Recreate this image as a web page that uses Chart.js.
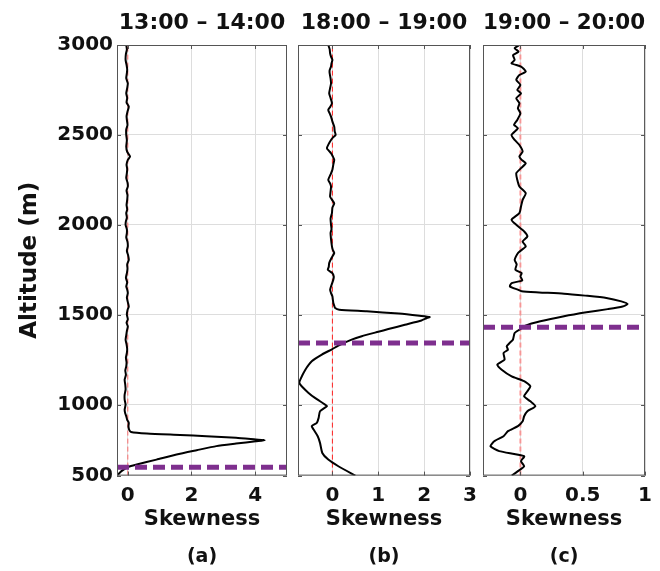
<!DOCTYPE html>
<html>
<head>
<meta charset="utf-8">
<script src="https://cdn.jsdelivr.net/npm/chart.js@4.4.1/dist/chart.umd.min.js"></script>
<style>
  body { margin: 0; background: #fff; }
  .wrap { position: relative; width: 660px; height: 571px; }
  .wrap canvas { position: absolute; left: 0; top: 0; }
</style>
</head>
<body>
<div class="wrap">
  <canvas id="panelA" width="660" height="571"></canvas>
  <canvas id="panelB" width="660" height="571"></canvas>
  <canvas id="panelC" width="660" height="571"></canvas>
</div>
<script>
// skewness profiles, altitude in m
const altA = [3000, 2975, 2950, 2917, 2890, 2865, 2843, 2815, 2787, 2760, 2731, 2705, 2680, 2657, 2630, 2605, 2583, 2555, 2530, 2500,
  2470, 2435, 2405, 2380, 2361, 2335, 2310, 2287, 2260, 2235, 2213, 2190, 2165, 2139, 2110, 2085, 2065, 2040, 2020, 2000,
  1975, 1954, 1930, 1905, 1880, 1855, 1830, 1805, 1780, 1755, 1731, 1705, 1680, 1657, 1640, 1620, 1595, 1570, 1546, 1525,
  1500, 1475, 1455, 1435, 1410, 1385, 1361, 1335, 1310, 1287, 1260, 1235, 1213, 1190, 1165, 1139, 1110, 1083, 1055, 1028,
  1000, 972, 950, 935, 915, 898, 880, 861, 848, 839, 831, 824, 815, 806, 802, 796, 783, 769, 746, 722,
  694, 667, 654, 630, 605]
const skewA = [-0.05, -0.03, -0.06, -0.07, -0.04, -0.02, -0.03, -0.05, 0.0, -0.02, -0.05, -0.02, -0.04, 0.03, -0.01, -0.04, -0.03, -0.01, -0.05, -0.05,
  -0.03, -0.05, -0.02, 0.07, 0.0, -0.04, -0.02, -0.03, -0.05, -0.01, 0.0, -0.04, -0.01, -0.02, -0.04, -0.02, -0.05, -0.03, -0.06, -0.07,
  -0.03, -0.03, -0.05, -0.01, 0.0, -0.03, 0.01, 0.03, -0.02, -0.01, -0.03, -0.06, -0.02, -0.05, -0.02, 0.0, -0.03, 0.0, 0.03, -0.01,
  -0.03, 0.0, -0.04, 0.0, -0.03, -0.05, -0.07, -0.04, -0.02, -0.03, -0.06, -0.04, -0.05, -0.08, -0.06, -0.1, -0.08, -0.07, -0.1, -0.1,
  -0.07, -0.1, -0.08, -0.05, -0.02, 0.03, 0.02, 0.04, 0.1, 0.6, 1.64, 2.47, 3.4, 4.02, 4.3, 4.02, 3.4, 2.78, 2.16, 1.53,
  0.9, 0.28, 0.02, -0.2, -0.34]

const altB = [3000, 2977, 2954, 2935, 2917, 2898, 2880, 2860, 2843, 2815, 2787, 2760, 2731, 2705, 2676, 2655, 2639, 2620, 2602, 2575,
  2546, 2520, 2500, 2485, 2472, 2450, 2426, 2410, 2398, 2380, 2361, 2335, 2306, 2280, 2250, 2230, 2213, 2185, 2157, 2140,
  2120, 2095, 2065, 2035, 2000, 1975, 1954, 1920, 1880, 1860, 1843, 1815, 1787, 1765, 1750, 1731, 1712, 1694, 1665, 1639,
  1620, 1602, 1583, 1565, 1550, 1537, 1528, 1519, 1506, 1494, 1487, 1480, 1468, 1444, 1420, 1405, 1380, 1361, 1328, 1309,
  1278, 1241, 1194, 1139, 1120, 1102, 1065, 1037, 1000, 991, 963, 926, 898, 880, 861, 824, 787, 731, 694, 657, 605]
const skewB = [-0.09, -0.06, -0.05, -0.03, 0.0, -0.02, -0.03, -0.06, -0.06, -0.04, -0.03, -0.05, -0.07, -0.04, -0.01, -0.05, -0.09, -0.06, -0.03, 0.0,
  0.04, 0.05, 0.07, 0.01, -0.03, -0.08, -0.12, -0.07, -0.03, 0.01, 0.04, 0.02, 0.0, -0.04, -0.09, -0.05, -0.03, -0.04, -0.05, -0.01,
  0.04, 0.0, -0.01, -0.04, -0.03, -0.02, -0.04, -0.03, -0.01, 0.01, 0.04, -0.02, -0.07, -0.08, -0.1, 0.0, 0.03, 0.02, -0.02, -0.05,
  -0.03, 0.0, 0.01, 0.02, 0.04, 0.06, 0.15, 0.75, 1.45, 1.9, 2.12, 2.05, 1.94, 1.58, 1.22, 1.0, 0.64, 0.42, 0.13, 0.0,
  -0.23, -0.45, -0.59, -0.7, -0.72, -0.67, -0.52, -0.38, -0.16, -0.12, -0.27, -0.3, -0.34, -0.45, -0.41, -0.32, -0.27, -0.22, -0.09, 0.13, 0.5]

const altC = [3000, 2982, 2963, 2944, 2917, 2898, 2880, 2852, 2833, 2806, 2778, 2750, 2731, 2704, 2676, 2648, 2620, 2583, 2556, 2537,
  2500, 2472, 2444, 2407, 2380, 2361, 2343, 2315, 2287, 2250, 2213, 2176, 2139, 2102, 2065, 2028, 2000, 1963, 1935, 1907,
  1880, 1843, 1805, 1780, 1750, 1731, 1713, 1690, 1676, 1657, 1639, 1630, 1624, 1617, 1606, 1593, 1574, 1559, 1546, 1531,
  1513, 1491, 1463, 1439, 1420, 1398, 1361, 1340, 1324, 1305, 1287, 1250, 1235, 1222, 1194, 1157, 1130, 1102, 1074, 1046,
  1018, 991, 963, 935, 907, 880, 852, 824, 796, 768, 741, 713, 685, 657, 630, 605]
const skewC = [-0.008, -0.046, -0.015, -0.059, -0.046, -0.071, 0.005, 0.043, -0.008, -0.033, 0.0, -0.025, 0.005, -0.033, -0.008, -0.02, 0.0, -0.025, -0.051, -0.02,
  -0.071, -0.046, -0.008, 0.018, -0.008, 0.01, 0.043, 0.005, -0.033, -0.025, -0.008, 0.043, 0.018, 0.005, -0.008, -0.071, -0.033, 0.031, 0.056, 0.018,
  0.043, -0.02, -0.046, -0.03, -0.04, 0.01, 0.0, 0.015, -0.07, -0.084, -0.02, 0.01, 0.15, 0.35, 0.52, 0.69, 0.81, 0.86, 0.82, 0.7,
  0.53, 0.35, 0.16, 0.04, 0.0, -0.046, -0.06, -0.09, -0.11, -0.1, -0.135, -0.127, -0.16, -0.186, -0.15, -0.07, 0.03, 0.08, 0.056, 0.03,
  0.08, 0.12, 0.056, 0.03, 0.018, -0.02, -0.1, -0.135, -0.21, -0.24, -0.17, 0.03, 0.005, 0.03, -0.02, -0.07]

// boundary layer height (m), dashed purple line
const blhA = 652
const blhB = 1343
const blhC = 1430

const titles = ['13:00 – 14:00', '18:00 – 19:00', '19:00 – 20:00']
const tags = ['(a)', '(b)', '(c)']

const yMin = 605
const yMax = 3000
const yTicks = [605, 1000, 1500, 2000, 2500, 3000]
const yTickLabels = ['500', '1000', '1500', '2000', '2500', '3000']

const xTicksA = [0, 2, 4]
const xTicksB = [0, 1, 2, 3]
const xTicksC = [0, 0.5, 1]

Chart.defaults.font.family = "'DejaVu Sans', sans-serif"
Chart.defaults.color = '#111'

// MATLAB-like box with inward tick marks
const axisBox = {
	id: 'axisBox',
	afterDatasetsDraw(chart) {
		const { ctx, chartArea: { left, right, top, bottom }, scales: { x, y } } = chart
		ctx.save()
		ctx.strokeStyle = '#555'
		ctx.lineWidth = 1
		ctx.strokeRect(left + 0.5, top + 0.5, right - left - 1, bottom - top - 1)
		ctx.beginPath()
		y.ticks.forEach(t => {
			const py = Math.round(y.getPixelForValue(t.value)) + 0.5
			ctx.moveTo(left, py)
			ctx.lineTo(left + 4, py)
			ctx.moveTo(right, py)
			ctx.lineTo(right - 4, py)
		})
		x.ticks.forEach(t => {
			const px = Math.round(x.getPixelForValue(t.value)) + 0.5
			ctx.moveTo(px, bottom)
			ctx.lineTo(px, bottom - 4)
			ctx.moveTo(px, top)
			ctx.lineTo(px, top + 4)
		})
		ctx.stroke()
		ctx.restore()
	},
}

function makePanel(id, p) {
	const profile = p.alt.map((a, i) => ({ x: p.skew[i], y: a }))
	new Chart(document.getElementById(id).getContext('2d'), {
		type: 'scatter',
		data: {
			datasets: [
				{
					data: [{ x: p.xMin, y: p.blh }, { x: p.xMax, y: p.blh }],
					showLine: true,
					borderColor: '#7e2f8e',
					borderWidth: 5,
					borderDash: [12, 6],
					pointRadius: 0,
				},
				{
					data: profile,
					showLine: true,
					borderColor: '#000',
					borderWidth: 2,
					pointRadius: 0,
					tension: 0.2,
				},
				{
					data: [{ x: 0, y: yMin }, { x: 0, y: yMax }],
					showLine: true,
					borderColor: p.zeroColor,
					borderWidth: p.zeroWidth,
					borderDash: [5, 3],
					pointRadius: 0,
				},
			],
		},
		options: {
			responsive: false,
			animation: false,
			devicePixelRatio: 1,
			events: [],
			layout: {
				autoPadding: false,
				padding: { left: p.padLeft, right: p.padRight, top: 0, bottom: 0 },
			},
			plugins: {
				legend: { display: false },
				tooltip: { enabled: false },
				title: {
					display: true,
					text: p.title,
					fullSize: false,
					font: { size: 22, weight: 'bold' },
					padding: { top: 10, bottom: 8.6 },
				},
				subtitle: {
					display: true,
					position: 'bottom',
					text: p.tag,
					fullSize: false,
					font: { size: 19, weight: 'bold' },
					padding: { top: 0, bottom: 2.6 },
				},
			},
			scales: {
				x: {
					type: 'linear',
					position: 'bottom',
					min: p.xMin,
					max: p.xMax,
					afterBuildTicks: s => { s.ticks = p.xTicks.map(v => ({ value: v })) },
					afterFit: s => { s.height = 70 },
					border: { display: false },
					grid: { color: '#dddddd', drawTicks: false },
					ticks: {
						padding: 8,
						autoSkip: false,
						maxRotation: 0,
						font: { size: 20, weight: 'bold' },
						callback: (v) => String(v),
					},
					title: {
						display: true,
						text: 'Skewness',
						font: { size: 21, weight: 'bold' },
						padding: { top: 0, bottom: 13 },
					},
				},
				y: {
					type: 'linear',
					min: yMin,
					max: yMax,
					afterBuildTicks: s => { s.ticks = yTicks.map(v => ({ value: v })) },
					afterFit: s => { s.width = p.yWidth },
					border: { display: false },
					grid: { color: '#dddddd', drawTicks: false },
					ticks: {
						display: p.showY,
						padding: 4,
						autoSkip: false,
						font: { size: 20, weight: 'bold' },
						callback: (v, i) => yTickLabels[i],
					},
					title: {
						display: p.showY,
						text: 'Altitude (m)',
						font: { size: 23, weight: 'bold' },
						padding: { top: 16, bottom: 0 },
					},
				},
			},
		},
		plugins: [axisBox],
	})
}

makePanel('panelA', {
	alt: altA, skew: skewA, blh: blhA, xMin: -0.34, xMax: 5, xTicks: xTicksA,
	title: titles[0], tag: tags[0], padLeft: 0, padRight: 373, yWidth: 117, showY: true,
	zeroColor: 'rgba(255, 90, 90, 0.85)', zeroWidth: 1,
})
makePanel('panelB', {
	alt: altB, skew: skewB, blh: blhB, xMin: -0.75, xMax: 3, xTicks: xTicksB,
	title: titles[1], tag: tags[1], padLeft: 298, padRight: 190, yWidth: 0, showY: false,
	zeroColor: '#ff2020', zeroWidth: 1,
})
makePanel('panelC', {
	alt: altC, skew: skewC, blh: blhC, xMin: -0.3, xMax: 1, xTicks: xTicksC,
	title: titles[2], tag: tags[2], padLeft: 483, padRight: 6, yWidth: 0, showY: false,
	zeroColor: 'rgba(255, 120, 120, 0.7)', zeroWidth: 2,
})
</script>
</body>
</html>
